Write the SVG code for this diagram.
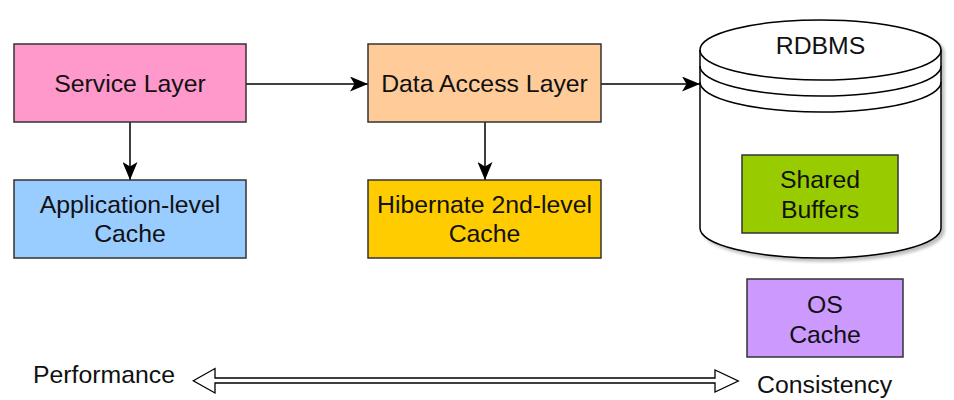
<svg xmlns="http://www.w3.org/2000/svg" width="954" height="400" viewBox="0 0 954 400">
<defs>
<style>
.box{stroke:#333;stroke-width:1.5}
.t{font-family:"Liberation Sans",Arial,sans-serif;font-size:24.8px;fill:#111;text-anchor:middle}
.tl{font-family:"Liberation Sans",Arial,sans-serif;font-size:24.8px;fill:#111}
.edge{stroke:#000;stroke-width:1.5;fill:none}
.cyl{fill:#fff;stroke:#000;stroke-width:1.5}
</style>
<marker id="arr" markerUnits="userSpaceOnUse" viewBox="0 0 18 15" refX="18" refY="7.5" markerWidth="18" markerHeight="15" orient="auto">
<path d="M0,0 L18,7.5 L0,15 L4.5,7.5 Z" fill="#000"/>
</marker>
<filter id="sh" x="-10%" y="-10%" width="130%" height="130%">
<feDropShadow dx="3" dy="3" stdDeviation="1.5" flood-color="#000" flood-opacity="0.25"/>
</filter>
</defs>

<g id="connectors">
<line class="edge" x1="246" y1="84" x2="368" y2="84" marker-end="url(#arr)"/>
<line class="edge" x1="130" y1="122" x2="130" y2="180" marker-end="url(#arr)"/>
<line class="edge" x1="485" y1="122" x2="485" y2="180" marker-end="url(#arr)"/>
<line class="edge" x1="601" y1="84" x2="700" y2="84" marker-end="url(#arr)"/>
</g>

<g id="service-layer">
<rect class="box" x="14" y="44" width="232" height="78" fill="#FF99CC"/>
<text class="t" x="130" y="92">Service Layer</text>
</g>

<g id="app-cache">
<rect class="box" x="14" y="180" width="232" height="78" fill="#99CCFF"/>
<text class="t" x="130" y="213">Application-level</text>
<text class="t" x="130" y="242">Cache</text>
</g>

<g id="data-access-layer">
<rect class="box" x="368" y="44" width="233" height="78" fill="#FFCC99"/>
<text class="t" x="484.5" y="92">Data Access Layer</text>
</g>

<g id="hibernate-cache">
<rect class="box" x="368" y="180" width="233" height="78" fill="#FFCC00"/>
<text class="t" x="484.5" y="213">Hibernate 2nd-level</text>
<text class="t" x="484.5" y="242">Cache</text>
</g>

<g id="rdbms">
<path class="cyl" filter="url(#sh)" d="M700,50 A120.5,30 0 0 1 941,50 L941,228 A120.5,30 0 0 1 700,228 Z"/>
<path class="edge" d="M700,50 A120.5,30 0 0 0 941,50"/>
<path class="edge" d="M700,66 A120.5,30 0 0 0 941,66"/>
<path class="edge" d="M700,82 A120.5,30 0 0 0 941,82"/>
<text class="t" x="820.5" y="54">RDBMS</text>
</g>

<g id="shared-buffers">
<rect class="box" x="742" y="155" width="156" height="78" fill="#99CC00"/>
<text class="t" x="820" y="188">Shared</text>
<text class="t" x="820" y="218">Buffers</text>
</g>

<g id="os-cache">
<rect class="box" x="747" y="279" width="156" height="78" fill="#CC99FF"/>
<text class="t" x="825" y="313">OS</text>
<text class="t" x="825" y="343">Cache</text>
</g>

<g id="performance">
<text class="tl" x="33" y="383">Performance</text>
</g>

<g id="tradeoff-arrow">
<polygon points="193.3,380.7 215,368.5 215,378 715,378 715,370 738.3,381 715,392 715,383 215,383 215,393" fill="#fff" stroke="#000" stroke-width="1.3" stroke-linejoin="miter"/>
</g>

<g id="consistency">
<text class="tl" x="757" y="393">Consistency</text>
</g>
</svg>
